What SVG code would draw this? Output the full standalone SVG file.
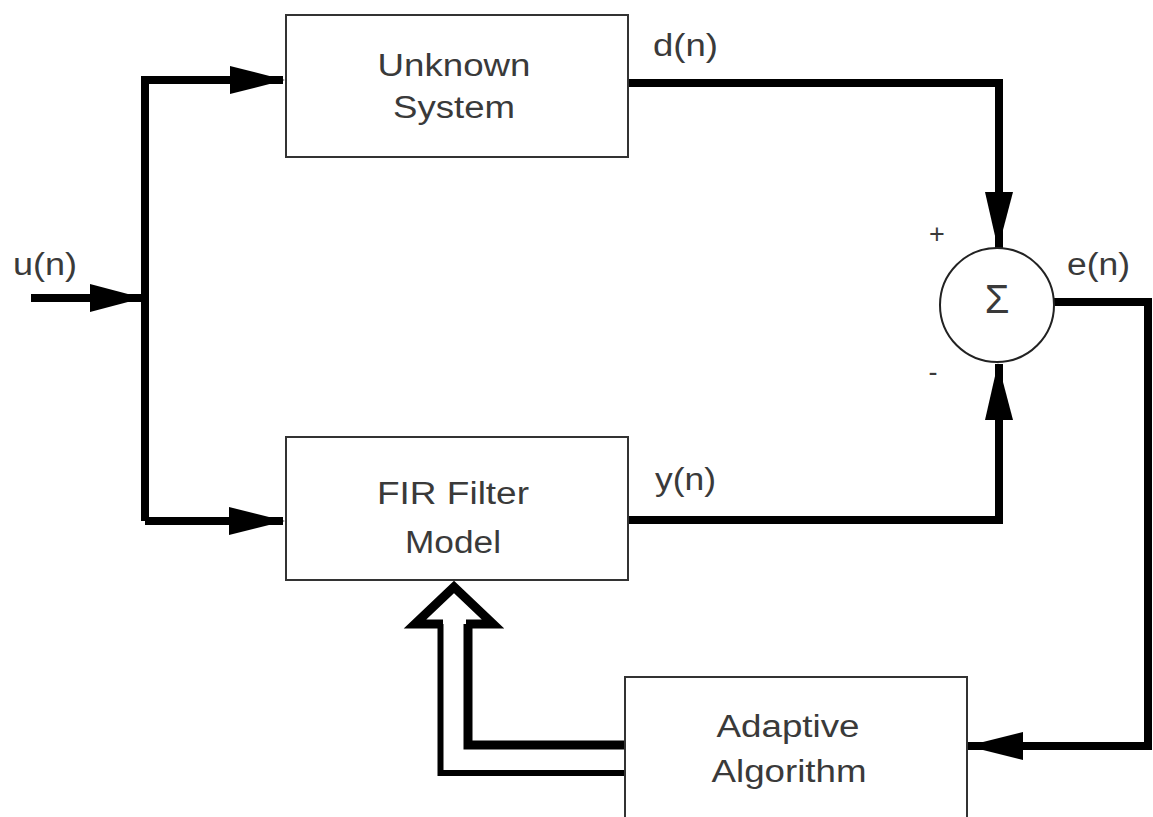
<svg xmlns="http://www.w3.org/2000/svg" width="1153" height="817" viewBox="0 0 1153 817">
<style>
.box{fill:#fff;stroke:#333;stroke-width:2}
.t{font-family:"Liberation Sans",Arial,sans-serif;font-size:31px;fill:#3a3a3a}
.c{text-anchor:middle}
.w{fill:none;stroke:#000;stroke-width:8;stroke-linejoin:miter;stroke-linecap:butt}
.ah{fill:#000}
</style>
<rect width="1153" height="817" fill="#fff"/>
<g id="connectors">
  <path class="w" d="M31,298 H145"/>
  <path class="w" d="M145,521 V80 H283"/>
  <path class="w" d="M145,521 H283"/>
  <path class="w" d="M629,83 H999 V248"/>
  <path class="w" d="M629,520 H999 V364"/>
  <path class="w" d="M1053,302 H1148 V746 H967"/>
  <polygon class="ah" points="90,284 143,298 90,312"/>
  <polygon class="ah" points="230,66 285,80 230,94"/>
  <polygon class="ah" points="229,507 285,521 229,535"/>
  <polygon class="ah" points="985,192 998,249 1013,192"/>
  <polygon class="ah" points="985,420 998,363 1013,420"/>
  <polygon class="ah" points="1023,732 967,746 1023,760"/>
  <g id="hollow-arrow" fill="none" stroke="#000" stroke-linejoin="miter">
    <path stroke-width="6" d="M625,773 H440.5 V624"/>
    <path stroke-width="9" d="M625,745 H468 V624"/>
    <path stroke-width="9" d="M443,624 H415 L454,587 L493,624 H466"/>
  </g>
</g>
<g id="unknown-system">
  <rect class="box" x="286" y="15" width="342" height="142"/>
  <text class="t c" x="454" y="76" textLength="153" lengthAdjust="spacingAndGlyphs">Unknown</text>
  <text class="t c" x="454" y="118" textLength="122" lengthAdjust="spacingAndGlyphs">System</text>
</g>
<g id="fir-filter">
  <rect class="box" x="286" y="437" width="342" height="143"/>
  <text class="t c" x="453" y="504" textLength="152" lengthAdjust="spacingAndGlyphs">FIR Filter</text>
  <text class="t c" x="453" y="553" textLength="96" lengthAdjust="spacingAndGlyphs">Model</text>
</g>
<g id="adaptive-algorithm">
  <rect class="box" x="625" y="677" width="342" height="160"/>
  <text class="t c" x="788" y="737" textLength="143" lengthAdjust="spacingAndGlyphs">Adaptive</text>
  <text class="t c" x="789" y="782" textLength="155" lengthAdjust="spacingAndGlyphs">Algorithm</text>
</g>
<g id="sum">
  <circle cx="997" cy="305" r="57" fill="#fff" stroke="#222" stroke-width="2"/>
  <text class="t c" x="997" y="313" fill="#555" style="font-size:40px">Σ</text>
  <text class="t c" x="937" y="243" style="font-size:27px">+</text>
  <text class="t c" x="933" y="381" style="font-size:27px">-</text>
</g>
<g id="labels">
  <text class="t" x="13" y="275" textLength="64" lengthAdjust="spacingAndGlyphs">u(n)</text>
  <text class="t" x="653" y="56" textLength="65" lengthAdjust="spacingAndGlyphs">d(n)</text>
  <text class="t" x="655" y="490" textLength="61" lengthAdjust="spacingAndGlyphs">y(n)</text>
  <text class="t" x="1067" y="275" textLength="63" lengthAdjust="spacingAndGlyphs">e(n)</text>
</g>
</svg>
